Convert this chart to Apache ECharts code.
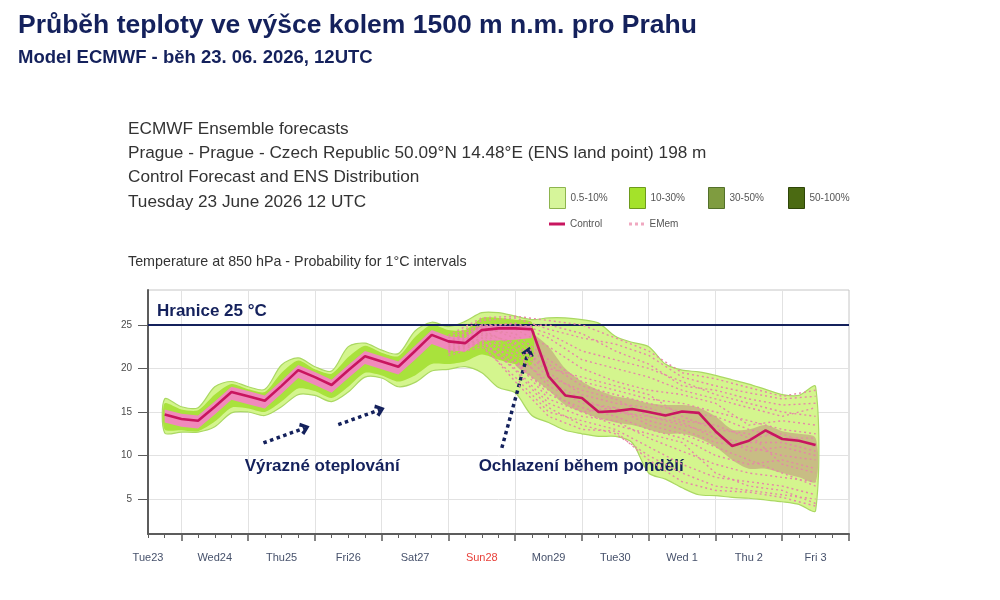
<!DOCTYPE html>
<html>
<head>
<meta charset="utf-8">
<title>Průběh teploty 850 hPa - Praha</title>
<script src="https://cdn.jsdelivr.net/npm/echarts@6/dist/echarts.min.js"></script>
<style>
html, body { margin: 0; padding: 0; background: #fff; }
#chart { width: 1000px; height: 600px; }
</style>
</head>
<body>
<div id="chart"></div>
<script>
// x = hours after Tue 23.06. 12 UTC
const dayLabels = ['Tue23', 'Wed24', 'Thu25', 'Fri26', 'Sat27', 'Sun28', 'Mon29', 'Tue30', 'Wed 1', 'Thu 2', 'Fri 3']
const labelHours = [0, 24, 48, 72, 96, 120, 144, 168, 192, 216, 240]
const yLabels = [5, 10, 15, 20, 25]

const hoursAll = [6, 12, 18, 24, 30, 36, 42, 48, 54, 60, 66, 72, 78, 84, 90, 96, 102, 108, 114, 120,
  126, 132, 138, 144, 150, 156, 162, 168, 174, 180, 186, 192, 198, 204, 210, 216, 222, 228, 234, 240]
const control = [14.7, 14.2, 14.0, 15.6, 17.3, 16.8, 16.3, 18.0, 19.8, 19.0, 18.1, 19.8, 21.4, 20.8, 20.2, 22.0, 23.85, 23.1, 22.9, 24.4,
  24.6, 24.6, 24.5, 19.1, 16.9, 16.6, 15.0, 15.1, 15.35, 15.0, 14.6, 15.05, 14.9, 12.8, 11.1, 11.7, 12.9, 11.9, 11.7, 11.2]
// 0.5-10 % envelope
const ensMin = [12.6, 12.7, 12.7, 13.3, 14.9, 15.0, 14.6, 15.6, 17.0, 16.9, 16.2, 17.3, 19.0, 18.9, 17.9, 18.4, 19.7, 19.9, 20.2, 19.5,
  17.8, 17.2, 14.6, 13.8, 12.9, 12.5, 12.2, 12.2, 11.5, 8.0, 7.3, 6.3, 5.5, 5.4, 5.2, 5.1, 4.9, 4.7, 4.4, 3.7]
const ensMax = [16.5, 15.6, 15.5, 17.9, 18.5, 17.9, 17.6, 20.4, 21.2, 20.2, 19.7, 22.5, 22.9, 22.1, 21.7, 24.3, 25.3, 24.8, 25.4, 26.4,
  26.4, 26.0, 25.6, 25.8, 25.8, 25.6, 25.2, 23.7, 23.0, 22.5, 20.5, 19.8, 19.6, 19.2, 18.7, 18.2, 17.6, 17.0, 16.9, 17.9]

// first days: narrow 10-30 % ring and dense member core
const hoursEarly = [6, 12, 18, 24, 30, 36, 42, 48, 54, 60, 66, 72, 78, 84, 90, 96, 102, 108, 114, 120, 126, 132, 138]
const p10Lo = [13.0, 12.9, 12.8, 13.9, 15.5, 15.4, 15.0, 16.2, 17.7, 17.4, 16.6, 17.9, 19.5, 19.2, 18.5, 19.2, 20.5, 20.5, 20.8, 21.6, 21.0, 20.5, 20.5]
const p10Hi = [16.0, 15.3, 15.2, 17.0, 18.2, 17.6, 17.3, 19.5, 20.9, 19.9, 19.4, 21.3, 22.6, 21.8, 21.4, 23.6, 25.0, 24.4, 24.4, 25.8, 25.8, 25.6, 25.3]
const coreLo = [13.8, 13.3, 13.1, 14.7, 16.4, 15.9, 15.4, 17.1, 18.9, 18.1, 17.2, 18.9, 20.5, 19.9, 19.3, 21.0, 22.8, 22.1, 21.9, 23.2, 23.2, 23.3, 23.5]
const coreHi = [15.3, 14.8, 14.6, 16.2, 17.9, 17.4, 16.9, 18.6, 20.4, 19.6, 18.7, 20.4, 22.0, 21.4, 20.8, 22.6, 24.4, 23.7, 23.5, 25.0, 25.1, 25.1, 25.0]

// after the cold front: denser middle of the spread
const hoursLate = [132, 138, 144, 150, 156, 162, 168, 174, 180, 186, 192, 198, 204, 210, 216, 222, 228, 234, 240]
const midLo = [20.5, 19.0, 17.5, 15.8, 15.0, 14.3, 13.8, 13.5, 13.0, 12.5, 12.5, 12.0, 11.0, 9.5, 8.5, 8.5, 8.0, 7.5, 7.0]
const midHi = [24.5, 24.0, 22.5, 20.0, 18.5, 17.5, 16.8, 16.5, 16.0, 15.8, 15.8, 15.5, 14.5, 13.0, 13.0, 13.5, 12.8, 12.5, 12.0]

// some ensemble members (EMem)
const hoursMem = [108, 120, 132, 144, 156, 168, 180, 192, 204, 216, 228, 240]
const members = [
  [23.5, 25.5, 25.8, 24.5, 23.5, 22.8, 21.5, 19.0, 18.0, 17.2, 16.5, 16.8],
  [23.0, 25.0, 25.0, 23.5, 21.0, 20.0, 19.0, 17.5, 16.5, 15.5, 14.5, 15.5],
  [23.0, 24.5, 24.0, 21.0, 18.5, 17.5, 16.5, 16.0, 15.0, 14.0, 13.0, 12.5],
  [22.5, 24.0, 23.0, 19.5, 17.0, 16.0, 15.5, 14.0, 13.5, 12.0, 12.5, 11.0],
  [22.5, 24.0, 22.0, 18.0, 16.0, 15.5, 14.0, 13.0, 11.5, 11.0, 10.0, 9.5],
  [22.0, 23.5, 21.0, 17.0, 15.5, 14.5, 13.0, 12.0, 10.0, 9.0, 9.5, 8.5],
  [22.0, 23.0, 20.0, 16.0, 14.5, 14.0, 12.0, 10.5, 9.0, 8.0, 7.5, 7.0],
  [21.5, 22.5, 19.0, 15.0, 14.0, 13.0, 11.0, 9.0, 7.5, 7.0, 6.5, 5.5],
  [23.5, 25.0, 24.5, 22.5, 20.0, 18.5, 17.5, 17.0, 16.0, 13.5, 14.0, 13.5],
  [22.8, 24.5, 22.5, 19.0, 17.5, 16.5, 14.5, 13.5, 12.5, 10.5, 11.0, 10.0],
  [22.0, 23.0, 20.5, 17.5, 15.0, 13.5, 12.5, 11.5, 8.0, 6.5, 6.0, 4.5],
  [23.0, 24.8, 25.2, 24.0, 22.0, 21.0, 20.0, 18.5, 17.0, 16.0, 15.0, 14.5],
  [23.2, 24.8, 23.5, 20.5, 18.0, 17.0, 16.0, 15.0, 14.5, 13.0, 12.0, 12.0],
  [22.3, 23.8, 21.5, 18.5, 16.5, 15.0, 14.5, 13.8, 12.0, 11.5, 11.5, 10.5],
  [22.7, 24.2, 22.8, 20.0, 19.0, 18.0, 17.0, 14.5, 13.0, 12.5, 9.0, 8.0],
  [22.0, 23.5, 20.8, 16.5, 15.0, 15.5, 13.5, 12.5, 11.0, 9.5, 8.0, 6.5],
  [23.8, 25.8, 26.0, 25.5, 25.0, 23.5, 22.0, 19.5, 18.8, 17.8, 16.8, 17.5],
  [22.5, 24.2, 24.8, 25.0, 24.0, 22.0, 20.5, 18.0, 17.5, 16.5, 15.8, 16.0],
  [21.8, 22.8, 18.5, 14.5, 13.0, 12.8, 9.5, 7.0, 6.0, 5.8, 5.2, 4.2],
  [22.2, 23.2, 19.8, 15.5, 13.5, 12.5, 10.0, 8.0, 6.5, 6.0, 5.5, 5.0]
]

const threshold = 25
// annotation arrows [from, to] in (hours, °C)
const arrows = [
  [[41.5, 11.45], [56.4, 13.17]],
  [[68.4, 13.55], [83.4, 15.26]],
  [[127.2, 10.88], [136.7, 21.94]]
]
const notes = [
  { text: 'Výrazné oteplování', at: [62.6, 8.73] },
  { text: 'Ochlazení během pondělí', at: [155.7, 8.73] }
]

const font = '"Liberation Sans", Arial, sans-serif'
const navy = '#14215c'
const axisGrey = '#5c5c5c'

const majorTicks = []
const minorTicks = []
for (let h = 0; h <= 252; h += 6) {
  if (h % 24 === 12) majorTicks.push(h)
  else minorTicks.push(h)
}

// filled band between lo and hi, drawn as one polygon through the axes
function band (name, xs, lo, hi, fill, edge, smooth, z) {
  return {
    name, type: 'custom', z, silent: true, clip: true,
    itemStyle: { color: fill },
    encode: { x: 0, y: [1, 2] },
    data: xs.map((h, i) => [h, lo[i], hi[i]]),
    renderItem (params, api) {
      if (params.dataIndexInside !== 0) return null
      const n = params.dataInsideLength
      const top = []
      const bottom = []
      for (let i = 0; i < n; i++) {
        top.push(api.coord([api.value(0, i), api.value(2, i)]))
        bottom.push(api.coord([api.value(0, i), api.value(1, i)]))
      }
      return {
        type: 'polygon',
        shape: { points: top.concat(bottom.reverse()), smooth },
        style: { fill, stroke: edge || null, lineWidth: edge ? 1.2 : 0 }
      }
    }
  }
}

const series = [
  band('0.5-10%', hoursAll, ensMin, ensMax, '#d4f58e', '#aad862', 0.3, 2),
  band('30-50%', hoursLate, midLo, midHi, '#c8bd84', null, 0.3, 3),
  band('10-30%', hoursEarly, p10Lo, p10Hi, '#a9e23c', null, 0.25, 3),
  band('core', hoursEarly, coreLo, coreHi, '#f08abb', null, 0, 4),
  { name: '50-100%', type: 'line', data: [], itemStyle: { color: '#4b6a12' } }
]
members.forEach(m => {
  series.push({
    name: 'EMem', type: 'line', symbol: 'none', z: 5, silent: true,
    lineStyle: { color: '#e687a8', width: 1.4, type: [2, 3] },
    itemStyle: { color: '#e687a8' },
    data: hoursMem.map((h, i) => [h, m[i]])
  })
})

const chevron = 'path://M0,12 L10,0 L20,12 L15,15 L10,7 L5,15 Z'
series.push({
  name: 'Control', type: 'line', symbol: 'none', z: 8,
  lineStyle: { color: '#c8155f', width: 2.6 },
  itemStyle: { color: '#c8155f' },
  data: hoursAll.map((h, i) => [h, control[i]]),
  markLine: {
    silent: true,
    animation: false,
    symbol: ['none', 'none'],
    data: [
      {
        yAxis: threshold,
        lineStyle: { color: navy, width: 2, type: 'solid' },
        label: {
          show: true, position: 'insideStartTop', formatter: 'Hranice 25 °C', distance: [9, 5],
          fontSize: 17, fontWeight: 'bold', color: navy, fontFamily: font
        }
      },
      ...arrows.map(a => [
        { coord: a[0], symbol: 'none', lineStyle: { color: navy, width: 3.5, type: [3.5, 3.5] }, label: { show: false } },
        { coord: a[1], symbol: chevron, symbolSize: [13, 10] }
      ])
    ]
  },
  markPoint: {
    silent: true,
    animation: false,
    symbol: 'circle',
    symbolSize: 1,
    itemStyle: { color: 'rgba(0,0,0,0)' },
    label: { show: true, position: 'inside', fontSize: 17, fontWeight: 'bold', color: navy, fontFamily: font },
    data: notes.map(n => ({ coord: n.at, value: n.text, label: { formatter: n.text } }))
  }
})

const legendBase = {
  selectedMode: false, padding: 0, itemGap: 0,
  textStyle: { fontSize: 10, color: '#555', fontFamily: font }
}
const box = (name, color, border) => ({ name, icon: 'rect', itemStyle: { color, borderColor: border, borderWidth: 1 } })

const chart = echarts.init(document.getElementById('chart'), null, { renderer: 'canvas' })
chart.setOption({
  animation: false,
  backgroundColor: '#fff',
  title: [
    {
      text: 'Průběh teploty ve výšce kolem 1500 m n.m. pro Prahu', left: 18, top: 12, padding: 0,
      textStyle: { fontSize: 26.5, fontWeight: 'bold', color: navy, fontFamily: font }
    },
    {
      text: 'Model ECMWF - běh 23. 06. 2026, 12UTC', left: 18, top: 48, padding: 0,
      textStyle: { fontSize: 18.5, fontWeight: 'bold', color: navy, fontFamily: font }
    },
    {
      text: 'ECMWF Ensemble forecasts\nPrague - Prague - Czech Republic 50.09°N 14.48°E (ENS land point) 198 m\nControl Forecast and ENS Distribution\nTuesday 23 June 2026 12 UTC',
      left: 128, top: 117, padding: 0,
      textStyle: { fontSize: 17.2, fontWeight: 'normal', color: '#333', lineHeight: 24.3, fontFamily: font }
    },
    {
      text: 'Temperature at 850 hPa - Probability for 1°C intervals', left: 128, top: 255, padding: 0,
      textStyle: { fontSize: 14.3, fontWeight: 'normal', color: '#333', fontFamily: font }
    }
  ],
  legend: [
    { ...legendBase, left: 549, top: 187, itemWidth: 16, itemHeight: 21, data: [box('0.5-10%', '#d6f59a', '#8db44e')] },
    { ...legendBase, left: 629, top: 187, itemWidth: 16, itemHeight: 21, data: [box('10-30%', '#a4e22a', '#6d9a1c')] },
    { ...legendBase, left: 708, top: 187, itemWidth: 16, itemHeight: 21, data: [box('30-50%', '#7f9c40', '#53702a')] },
    { ...legendBase, left: 788, top: 187, itemWidth: 16, itemHeight: 21, data: [box('50-100%', '#4b6a12', '#2e4508')] },
    {
      ...legendBase, left: 549, top: 219, itemWidth: 16, itemHeight: 3,
      data: [{ name: 'Control', icon: 'rect', itemStyle: { color: '#c8155f' } }]
    },
    {
      ...legendBase, left: 629, top: 219, itemWidth: 16, itemHeight: 3,
      data: [{ name: 'EMem', icon: 'path://M0,0h3v3h-3z M6,0h3v3h-3z M12,0h3v3h-3z', itemStyle: { color: '#f0a8c0' } }]
    }
  ],
  grid: [
    { left: 148, right: 151, top: 290, bottom: 66, show: true, borderColor: '#c6c6c6', borderWidth: 1, outerBoundsMode: 'none' },
    { left: 148, right: 151, top: 290, bottom: 66, show: false, outerBoundsMode: 'none' }
  ],
  xAxis: [
    {
      gridIndex: 0, type: 'value', min: 0, max: 252,
      axisLine: { show: true, lineStyle: { color: axisGrey, width: 2 } },
      axisTick: { show: true, customValues: majorTicks, length: 7, lineStyle: { color: axisGrey, width: 1.5 } },
      axisLabel: {
        customValues: labelHours, margin: 18, fontSize: 11, color: '#46516b', fontFamily: font,
        formatter: v => {
          const i = labelHours.indexOf(v)
          if (i < 0) return ''
          return dayLabels[i].startsWith('Sun') ? '{sun|' + dayLabels[i] + '}' : dayLabels[i]
        },
        rich: { sun: { color: '#e8413a', fontSize: 11, fontFamily: font } }
      },
      splitLine: { show: true, lineStyle: { color: '#e2e2e2', width: 1 } }
    },
    {
      gridIndex: 1, type: 'value', min: 0, max: 252,
      axisLine: { show: false },
      axisTick: { show: true, customValues: minorTicks, length: 4, lineStyle: { color: axisGrey, width: 1 } },
      axisLabel: { show: false },
      splitLine: { show: false }
    }
  ],
  yAxis: [
    {
      gridIndex: 0, type: 'value', min: 1, max: 29,
      axisLine: { show: true, lineStyle: { color: axisGrey, width: 2 } },
      axisTick: { show: true, customValues: yLabels, length: 10, lineStyle: { color: axisGrey, width: 1 } },
      axisLabel: { customValues: yLabels, margin: 16, fontSize: 10, color: '#4a4a4a', fontFamily: font },
      splitLine: { show: true, lineStyle: { color: '#e2e2e2', width: 1 } }
    },
    { gridIndex: 1, type: 'value', min: 1, max: 29, show: false }
  ],
  series
})
</script>
</body>
</html>
